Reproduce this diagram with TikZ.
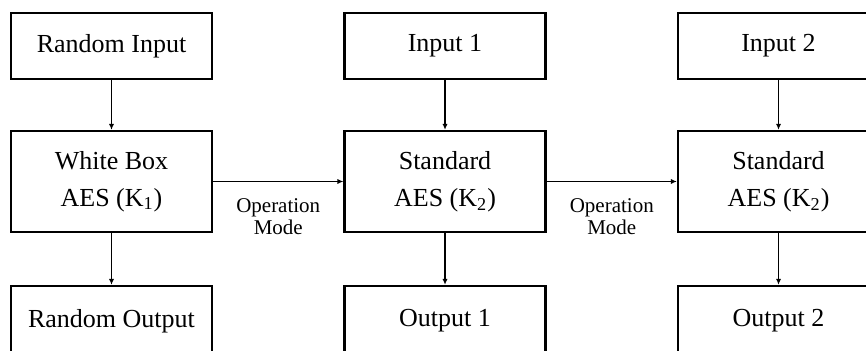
\documentclass[tikz,border=0pt]{standalone}
\usepackage{fontspec}
\setmainfont{Liberation Serif}
\usetikzlibrary{arrows.meta}

\begin{document}
\begin{tikzpicture}[x=0.5pt, y=0.5pt,
    blk/.style={draw, line width=1.1pt, minimum width=100.5pt, inner sep=0pt,
        align=center, font=\fontsize{13}{18.5}\selectfont},
    iobox/.style={blk, minimum height=33pt},
    outbox/.style={blk, minimum height=35pt},
    aesbox/.style={blk, minimum height=50.5pt},
    flow/.style={-{Latex[length=3pt, width=2.6pt]}, line width=0.75pt},
    modelbl/.style={align=center, font=\fontsize{10.5}{11}\selectfont}]
    % Rahmen
    \useasboundingbox (0,0) rectangle (866,351);
    \clip (0,0) rectangle (866,351);
    % Eingaben
    \node[iobox] (rin) at (111.5,305) {Random Input};
    \node[iobox] (in1) at (445,305) {Input 1};
    \node[iobox] (in2) at (778.5,305) {Input 2};
    % Verschluesselung
    \node[aesbox] (wbaes) at (111.5,169.5) {White Box\\AES (K\textsubscript{1})};
    \node[aesbox] (aes1) at (445,169.5) {Standard\\AES (K\textsubscript{2})};
    \node[aesbox] (aes2) at (778.5,169.5) {Standard\\AES (K\textsubscript{2})};
    % Ausgaben
    \node[outbox] (rout) at (111.5,30) {Random Output};
    \node[outbox] (out1) at (445,30) {Output 1};
    \node[outbox] (out2) at (778.5,30) {Output 2};
    % Pfeile
    \foreach \a/\b/\c in {rin/wbaes/rout, in1/aes1/out1, in2/aes2/out2} {
        \draw[flow] (\a) -- (\b);
        \draw[flow] (\b) -- (\c);
    }
    \draw[flow] (wbaes) -- node[below=5pt, modelbl] {Operation\\Mode} (aes1);
    \draw[flow] (aes1) -- node[below=5pt, modelbl] {Operation\\Mode} (aes2);
\end{tikzpicture}
\end{document}
